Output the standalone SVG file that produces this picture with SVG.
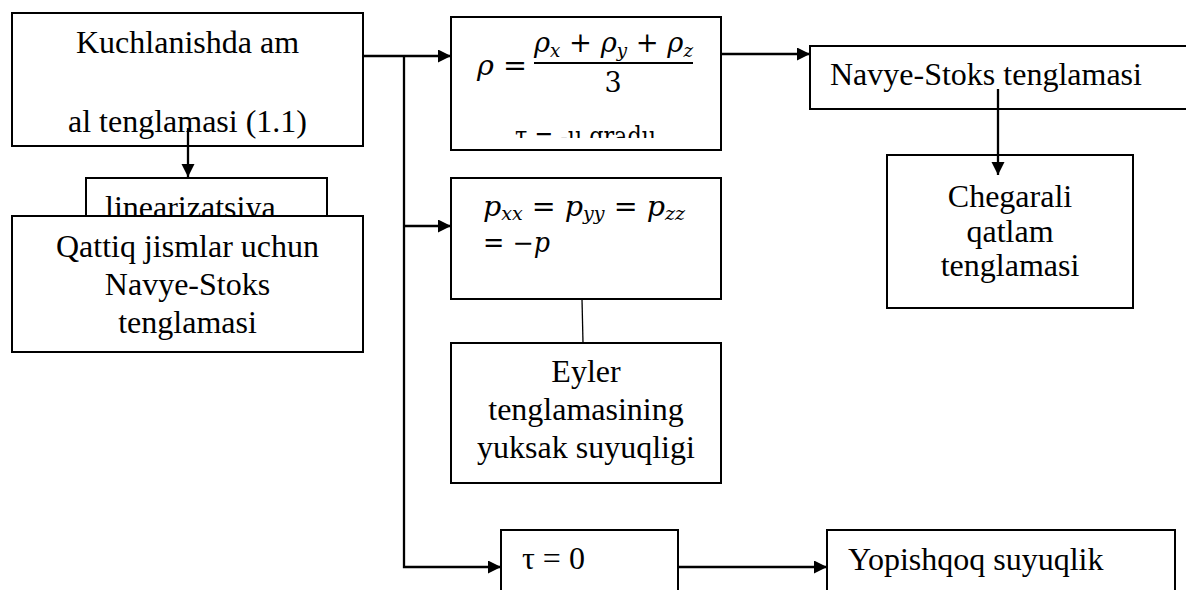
<svg xmlns="http://www.w3.org/2000/svg" width="1186" height="590" viewBox="0 0 1186 590">
  <style>
    .box { fill: #ffffff; stroke: #000000; stroke-width: 2; }
    .t { font-family: "Liberation Serif", "Times New Roman", serif; font-size: 32px; fill: #000000; }
    .c { text-anchor: middle; }
    .m { font-family: "DejaVu Serif", "Liberation Serif", serif; font-size: 27px; fill: #000000; }
    .mi { font-style: italic; }
    .sub { font-size: 18px; font-style: italic; }
    .wire { fill: none; stroke: #000000; stroke-width: 2.3; }
    .thin { fill: none; stroke: #000000; stroke-width: 1.3; }
  </style>
  <defs>
    <marker id="arrow" markerUnits="userSpaceOnUse" markerWidth="14" markerHeight="14" refX="13" refY="6.5" orient="auto">
      <path d="M0,0 L13,6.5 L0,13 z" fill="#000000"/>
    </marker>
    <clipPath id="rhoClip">
      <rect x="452" y="18" width="268" height="120"/>
    </clipPath>
  </defs>

  <rect width="1186" height="590" fill="#ffffff"/>

  <!-- source node -->
  <g id="node-kuchlanish">
    <rect class="box" x="12" y="13" width="351" height="133"/>
    <text class="t c" x="187.5" y="53">Kuchlanishda am</text>
    <text class="t c" x="187.5" y="132">al tenglamasi (1.1)</text>
  </g>

  <!-- linearisation step, partly covered by the solids box -->
  <g id="node-linearizatsiya">
    <rect class="box" x="86" y="178" width="241" height="60"/>
    <text class="t" x="105" y="218">linearizatsiya</text>
  </g>

  <g id="node-qattiq">
    <rect class="box" x="12" y="216" width="351" height="136"/>
    <text class="t c" x="187.5" y="257">Qattiq jismlar uchun</text>
    <text class="t c" x="187.5" y="295">Navye-Stoks</text>
    <text class="t c" x="187.5" y="333">tenglamasi</text>
  </g>

  <!-- mean pressure formula -->
  <g id="node-rho">
    <rect class="box" x="451" y="17" width="270" height="133"/>
    <text class="m" x="477" y="75" textLength="50" lengthAdjust="spacingAndGlyphs"><tspan class="mi">ρ</tspan> =</text>
    <text class="m" x="534" y="52" textLength="159" lengthAdjust="spacingAndGlyphs"><tspan class="mi">ρ</tspan><tspan class="sub" dy="5">x</tspan><tspan dy="-5"> + </tspan><tspan class="mi">ρ</tspan><tspan class="sub" dy="5">y</tspan><tspan dy="-5"> + </tspan><tspan class="mi">ρ</tspan><tspan class="sub" dy="5">z</tspan></text>
    <line x1="534" y1="63" x2="693" y2="63" stroke="#000000" stroke-width="1.8"/>
    <text class="m c" x="613" y="92">3</text>
    <text class="m" x="515" y="146" font-size="24" clip-path="url(#rhoClip)" textLength="141" lengthAdjust="spacingAndGlyphs">τ = -μ gradu</text>
  </g>

  <g id="node-pxx">
    <rect class="box" x="451" y="178" width="270" height="121"/>
    <text class="m" x="483" y="216" font-size="26" textLength="202" lengthAdjust="spacingAndGlyphs"><tspan class="mi">p</tspan><tspan class="sub" font-size="17" dy="4">xx</tspan><tspan dy="-4"> = </tspan><tspan class="mi">p</tspan><tspan class="sub" font-size="17" dy="4">yy</tspan><tspan dy="-4"> = </tspan><tspan class="mi">p</tspan><tspan class="sub" font-size="17" dy="4">zz</tspan></text>
    <text class="m" x="483" y="252" font-size="25" textLength="67" lengthAdjust="spacingAndGlyphs">= −<tspan class="mi">p</tspan></text>
  </g>

  <g id="node-eyler">
    <rect class="box" x="451" y="343" width="270" height="140"/>
    <text class="t c" x="586" y="382">Eyler</text>
    <text class="t c" x="586" y="420">tenglamasining</text>
    <text class="t c" x="586" y="458">yuksak suyuqligi</text>
  </g>

  <g id="node-navye">
    <rect class="box" x="810" y="46" width="380" height="63"/>
    <text class="t" x="830" y="85">Navye-Stoks tenglamasi</text>
  </g>

  <g id="node-chegarali">
    <rect class="box" x="887" y="155" width="246" height="153"/>
    <text class="t c" x="1010" y="207">Chegarali</text>
    <text class="t c" x="1010" y="242">qatlam</text>
    <text class="t c" x="1010" y="276">tenglamasi</text>
  </g>

  <g id="node-tau">
    <rect class="box" x="501" y="530" width="177" height="70"/>
    <text class="t" x="522" y="569">τ = 0</text>
  </g>

  <g id="node-yopishqoq">
    <rect class="box" x="827" y="530" width="348" height="70"/>
    <text class="t" x="848" y="570">Yopishqoq suyuqlik</text>
  </g>

  <!-- connectors -->
  <g id="connectors">
    <line class="wire" x1="363" y1="56" x2="451" y2="56" marker-end="url(#arrow)"/>
    <polyline class="wire" points="404,56 404,567 501,567" marker-end="url(#arrow)"/>
    <line class="wire" x1="404" y1="226" x2="451" y2="226" marker-end="url(#arrow)"/>
    <line class="wire" x1="188" y1="128" x2="188" y2="177" marker-end="url(#arrow)"/>
    <line class="wire" x1="721" y1="54" x2="810" y2="54" marker-end="url(#arrow)"/>
    <line class="wire" x1="998" y1="89" x2="998" y2="175" marker-end="url(#arrow)"/>
    <line class="thin" x1="582" y1="299" x2="583" y2="343"/>
    <line class="wire" x1="678" y1="567" x2="827" y2="567" marker-end="url(#arrow)"/>
  </g>
</svg>
